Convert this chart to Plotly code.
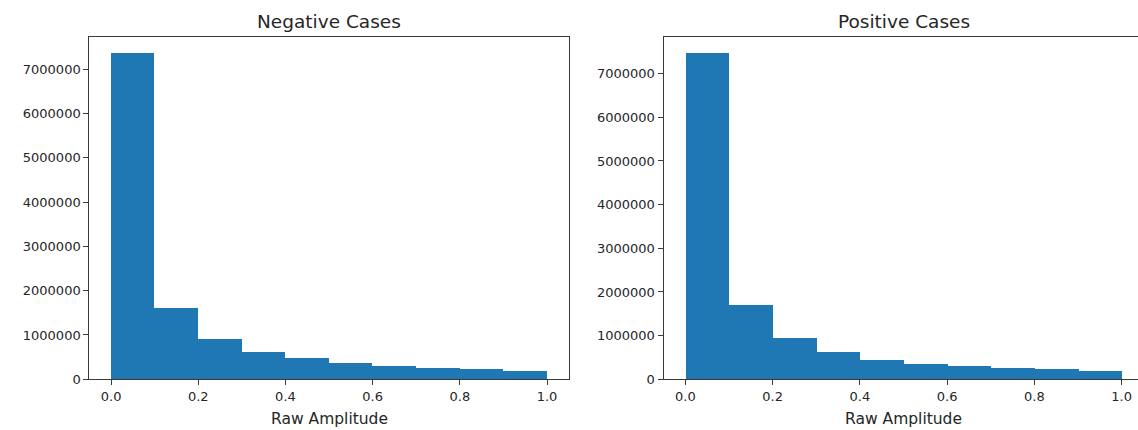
import plotly.graph_objects as go

# Data
bin_edges = [0.0, 0.1, 0.2, 0.3, 0.4, 0.5, 0.6, 0.7, 0.8, 0.9, 1.0]
negative_counts = [7350000, 1600000, 894000, 612000, 470000, 361000, 284000, 248000, 217000, 180000]
positive_counts = [7460000, 1700000, 940000, 620000, 446000, 339000, 293000, 259000, 229000, 190000]
titles = ["Negative Cases", "Positive Cases"]
x_label = "Raw Amplitude"
x_ticks = [0.0, 0.2, 0.4, 0.6, 0.8, 1.0]
x_tick_text = ["0.0", "0.2", "0.4", "0.6", "0.8", "1.0"]
y_ticks = [0, 1000000, 2000000, 3000000, 4000000, 5000000, 6000000, 7000000]

W, H = 1138, 430
BAR = "#1f77b4"
TXT = "#262626"
AX = "#3a3a3a"
FONT = "DejaVu Sans"
TICK_SIZE = 13
LABEL_SIZE = 15.5
TITLE_SIZE = 18.5

lefts = bin_edges[:-1]
widths = [b - a for a, b in zip(bin_edges[:-1], bin_edges[1:])]

fig = go.Figure()
fig.add_trace(go.Bar(x=lefts, y=negative_counts, width=widths, offset=0,
                     marker=dict(color=BAR, line=dict(width=0)),
                     xaxis="x", yaxis="y", showlegend=False))
fig.add_trace(go.Bar(x=lefts, y=positive_counts, width=widths, offset=0,
                     marker=dict(color=BAR, line=dict(width=0)),
                     xaxis="x2", yaxis="y2", showlegend=False))

y_bot = (H - 379.3) / H
y_top = (H - 37.3) / H

# left panel: pixels 89.3 .. 568.8
d1 = [89.3 / W, 568.8 / W]
# right panel: pixels 663.5 .. 1143.5 (clipped at image edge 1138)
d2 = [663.5 / W, 1.0]
px_per_unit = (568.8 - 89.3) / 1.1
x2_max = 1.05 - (1143.5 - W) / px_per_unit
c1 = (d1[0] + d1[1]) / 2
c2 = (663.5 + 1143.5) / 2 / W
xt1 = (89.3 + px_per_unit * 0.55) / W
xt2 = (663.5 + px_per_unit * 0.55) / W

axis_common = dict(showgrid=False, zeroline=False, showline=True, linecolor=AX, linewidth=1,
                   ticks="outside", ticklen=5, tickwidth=1, tickcolor=AX, automargin=False,
                   tickfont=dict(family=FONT, size=TICK_SIZE, color=TXT))

fig.update_layout(
    template="none",
    width=W, height=H,
    margin=dict(l=0, r=0, t=0, b=0, pad=0, autoexpand=False),
    paper_bgcolor="white", plot_bgcolor="white",
    bargap=0,
    font=dict(family=FONT, color=TXT),
    xaxis=dict(domain=d1, anchor="y", range=[-0.05, 1.05], tickvals=x_ticks, ticktext=x_tick_text,
               mirror=True, **axis_common),
    yaxis=dict(domain=[y_bot, y_top], anchor="x", range=[0, max(negative_counts) * 1.05],
               tickvals=y_ticks, tickformat="d", mirror=True, **axis_common),
    xaxis2=dict(domain=d2, anchor="y2", range=[-0.05, x2_max], tickvals=x_ticks, ticktext=x_tick_text,
                mirror=True, **axis_common),
    yaxis2=dict(domain=[y_bot, y_top], anchor="x2", range=[0, max(positive_counts) * 1.05],
                tickvals=y_ticks, tickformat="d", mirror=False, **axis_common),
)

for cx, t in [(c1, titles[0]), (c2, titles[1])]:
    fig.add_annotation(text=t, xref="paper", yref="paper", x=cx, y=y_top,
                       xanchor="center", yanchor="bottom", yshift=3, showarrow=False,
                       font=dict(family=FONT, size=TITLE_SIZE, color=TXT))
for cx in [xt1, xt2]:
    fig.add_annotation(text=x_label, xref="paper", yref="paper", x=cx, y=y_bot,
                       xanchor="center", yanchor="middle", yshift=-40, showarrow=False,
                       font=dict(family=FONT, size=LABEL_SIZE, color=TXT))

fig.write_html("out.html", config={"displayModeBar": False},
               post_script="document.body.style.margin='0';document.body.style.overflow='hidden';")
